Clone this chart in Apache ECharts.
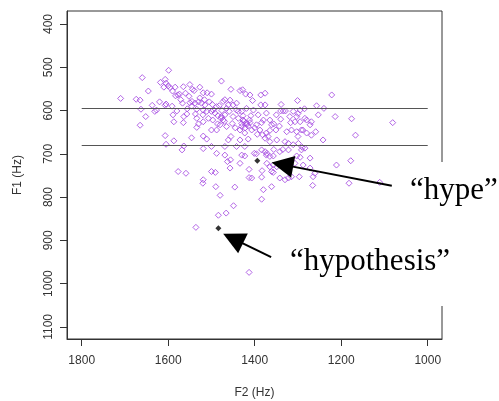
<!DOCTYPE html>
<html><head><meta charset="utf-8">
<script src="https://cdn.jsdelivr.net/npm/echarts@6/dist/echarts.min.js"></script>
<style>html,body{margin:0;padding:0;background:#fff}#c{width:499px;height:401px}</style>
</head><body><div id="c"></div>
<script>
// Vowel tokens: F2 (Hz) and F1 (Hz)
const f2Values = [1599,1660,1618,1607,1605,1610,1600,1596,1584,1578,1574,1565,1550,1544,1527,1540,1519,1510,1500,1477,
1455,1434,1428,1421,1411,1405,1710,1674,1665,1646,1663,1652,1665,1631,1627,1605,1607,1580,1587,1567,
1564,1565,1557,1550,1545,1538,1530,1534,1537,1534,1530,1534,1523,1515,1519,1511,1507,1519,1500,1496,
1492,1488,1473,1482,1477,1473,1469,1480,1488,1500,1465,1457,1461,1459,1450,1442,1438,1430,1427,1419,
1415,1411,1430,1434,1423,1407,1396,1392,1403,1419,1546,1519,1511,1568,1564,1519,1500,1488,1469,1461,
1442,1434,1423,1415,1401,1396,1430,1423,1463,1456,1457,1434,1413,1577,1559,1519,1520,1500,1491,1490,
1480,1446,1407,1413,1607,1605,1587,
1386,1376,1386,1376,1339,1340,1334,1329,1301,1257,1222,1285,1311,1373,1365,1380,1384,1361,1356,1388,
1382,1373,1369,1365,1343,1351,1319,1303,1295,1317,1307,1295,1289,1284,1280,1272,1269,1253,1259,1214,
1176,1081,1167,1242,1326,1315,1303,1292,1376,1365,1349,1330,1322,1311,1299,1284,1292,1384,1376,1373,
1365,1357,1342,1322,1303,1295,1272,1288,1357,1349,1361,1272,1261,1265,1211,1178,1182,1111,1357,1342,
1330,1322,1315,1297,1266,1383,1384,
1384,1449,1484,1466,1536,1413,1380,1361,
1469,1450,1442,1425,1418,1422,1412,1430,1478,1485,1470,1300,1269,1280,1469,1372,1372,1365,1307,
1590,1583,1571,1560,1552,1546,1556,1527,1516,1505,1498,1520,1497,1486,1476,1465,1452,1445,1438,1427,
1409,1400,1394,1455,1591,1620,1637,1589,1350,1340,1335,1356,1300,1290,1240];
const f1Values = [507,524,535,528,537,546,543,547,546,564,562,545,540,551,546,554,559,559,562,532,
551,554,552,562,564,577,572,574,576,555,597,614,634,602,599,585,588,601,626,583,
614,628,608,582,579,583,580,597,608,618,631,639,583,587,599,602,618,626,602,599,
606,591,579,589,614,622,610,633,645,645,637,576,587,602,614,583,602,602,622,629,
636,628,637,645,652,645,633,610,599,595,663,659,666,691,682,688,683,699,683,668,
683,668,683,666,699,700,703,705,718,714,733,722,736,741,745,760,768,741,743,776,
796,777,756,755,658,678,670,
564,560,587,587,586,601,601,601,577,589,564,596,602,606,622,622,628,633,631,645,
656,652,660,646,636,645,614,614,599,628,626,626,645,618,622,633,626,610,649,614,
619,628,657,668,649,645,649,645,664,672,668,672,676,679,676,687,691,691,695,703,
706,705,695,691,705,708,710,726,726,730,741,733,745,753,726,716,768,766,743,756,
760,756,753,753,773,739,754,
805,820,842,837,870,974,783,776,
575,587,599,625,632,640,622,630,618,612,625,607,657,652,703,699,722,730,722,
555,566,575,560,567,590,596,571,575,580,586,610,622,631,600,595,630,640,618,612,
612,640,655,660,590,580,588,610,610,620,690,690,660,685,595];

// Highlighted words
const targetWords = ['\u201Chype\u201D', '\u201Chypothesis\u201D'];
const targetF2 = [1394, 1484];
const targetF1 = [716, 872];

// Arrows (tail -> head), in data units
const arrowTailF2 = [1083, 1362];
const arrowTailF1 = [774, 939];
const arrowHeadF2 = [1336, 1450];
const arrowHeadF1 = [725, 896];

// Horizontal reference lines
const referenceF1 = [595, 681];
const referenceSpanF2 = [1800, 1000];

// Tick labels
const xTicks = [1800, 1600, 1400, 1200, 1000];
const yTicks = [400, 500, 600, 700, 800, 900, 1000, 1100];

const tokens = f2Values.map((v, i) => [v, f1Values[i]]);
const targets = targetF2.map((v, i) => [v, targetF1[i]]);

const chart = echarts.init(document.getElementById('c'), null, {renderer: 'canvas'});
const axisFont = {fontFamily: 'Liberation Sans, Arial, sans-serif', fontSize: 12, color: '#333'};
const plain = v => String(v);

chart.setOption({
  animation: false,
  backgroundColor: '#fff',
  grid: {left: 67, right: 57, top: 11, bottom: 62, containLabel: false, outerBoundsMode: 'none',
         show: true, borderColor: '#333', borderWidth: 1, backgroundColor: 'transparent'},
  xAxis: {
    type: 'value', min: 967, max: 1834, inverse: true,
    name: 'F2 (Hz)', nameLocation: 'middle', nameGap: 48,
    nameTextStyle: axisFont,
    axisLine: {show: true, lineStyle: {color: '#333'}},
    axisTick: {show: true, length: 7, customValues: xTicks, lineStyle: {color: '#333'}},
    axisLabel: Object.assign({customValues: xTicks, margin: 16, formatter: plain}, axisFont),
    splitLine: {show: false}
  },
  yAxis: {
    type: 'value', min: 370, max: 1128, inverse: true,
    name: 'F1 (Hz)', nameLocation: 'middle', nameGap: 43,
    nameTextStyle: axisFont,
    axisLine: {show: true, lineStyle: {color: '#333'}},
    axisTick: {show: true, length: 7, customValues: yTicks, lineStyle: {color: '#333'}},
    axisLabel: Object.assign({customValues: yTicks, margin: 12, rotate: 90, formatter: plain}, axisFont),
    splitLine: {show: false}
  },
  series: [
    {
      type: 'scatter', data: tokens, symbol: 'diamond', symbolSize: 6,
      itemStyle: {color: 'rgba(0,0,0,0)', borderColor: '#a040e0', borderWidth: 1},
      silent: true, z: 3,
      markLine: {
        silent: true, symbol: ['none', 'none'], label: {show: false},
        lineStyle: {color: '#555', width: 1, type: 'solid'},
        data: referenceF1.map(v => [{coord: [referenceSpanF2[0], v]}, {coord: [referenceSpanF2[1], v]}])
      }
    },
    {
      type: 'scatter', data: targets, symbol: 'diamond', symbolSize: 6,
      itemStyle: {color: '#000'}, silent: true, z: 4,
      markLine: {
        silent: true, symbol: ['none', 'triangle'], symbolSize: [22, 22], label: {show: false},
        lineStyle: {color: '#000', width: 2, type: 'solid'},
        itemStyle: {color: '#000'},
        data: arrowTailF2.map((v, i) => [{coord: [v, arrowTailF1[i]]}, {coord: [arrowHeadF2[i], arrowHeadF1[i]]}])
      }
    }
  ],
  graphic: [
    {type: 'rect', shape: {x: 438, y: 162, width: 10, height: 144}, style: {fill: '#fff'}, z: 100},
    {type: 'text', x: 410, y: 191, z: 101, style: {text: targetWords[0], font: '31px "Liberation Serif", "Times New Roman", serif', fill: '#000', textVerticalAlign: 'middle'}},
    {type: 'text', x: 290, y: 262, z: 101, style: {text: targetWords[1], font: '31px "Liberation Serif", "Times New Roman", serif', fill: '#000', textVerticalAlign: 'middle'}}
  ]
});
</script>
</body></html>
